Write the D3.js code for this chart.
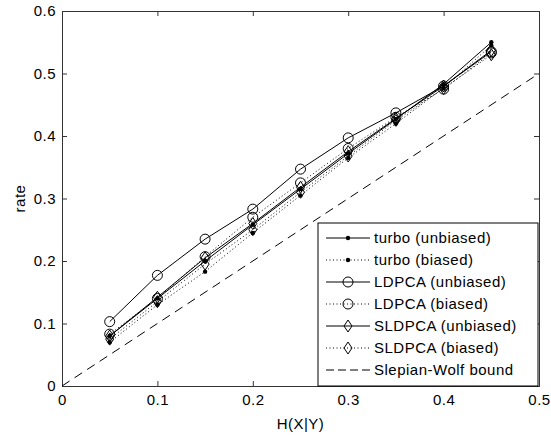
<html>
<head>
<style>
  body { margin: 0; background: #fff; font-family: Arial, "Liberation Sans", sans-serif; }
  svg text { fill: #000; letter-spacing: 0.5px; }
</style>
<script src="https://cdn.jsdelivr.net/npm/d3@7"></script>
</head>
<body>
<svg id="grafico"></svg>
<script>
// data
const entropias = [0.05, 0.1, 0.15, 0.2, 0.25, 0.3, 0.35, 0.4, 0.45];
const turboSinSesgo = [0.080, 0.140, 0.200, 0.258, 0.315, 0.372, 0.427, 0.483, 0.550];
const turboSesgo = [0.070, 0.130, 0.183, 0.245, 0.305, 0.365, 0.420, 0.477, 0.545];
const ldpcaSinSesgo = [0.103, 0.177, 0.235, 0.283, 0.347, 0.397, 0.437, 0.480, 0.535];
const ldpcaSesgo = [0.083, 0.140, 0.207, 0.270, 0.325, 0.380, 0.430, 0.475, 0.533];
const sldpcaSinSesgo = [0.080, 0.142, 0.205, 0.260, 0.318, 0.375, 0.428, 0.480, 0.537];
const sldpcaSesgo = [0.075, 0.135, 0.195, 0.250, 0.310, 0.368, 0.425, 0.476, 0.530];
const cotaSW = [[0, 0], [0.5, 0.5]];
const ticksX = [0, 0.1, 0.2, 0.3, 0.4, 0.5];
const ticksY = [0, 0.1, 0.2, 0.3, 0.4, 0.5, 0.6];

const series = [
  { nombre: "turbo (unbiased)", valores: turboSinSesgo, marca: "punto", linea: "solid" },
  { nombre: "turbo (biased)", valores: turboSesgo, marca: "punto", linea: "dotted" },
  { nombre: "LDPCA (unbiased)", valores: ldpcaSinSesgo, marca: "circulo", linea: "solid" },
  { nombre: "LDPCA (biased)", valores: ldpcaSesgo, marca: "circulo", linea: "dotted" },
  { nombre: "SLDPCA (unbiased)", valores: sldpcaSinSesgo, marca: "rombo", linea: "solid" },
  { nombre: "SLDPCA (biased)", valores: sldpcaSesgo, marca: "rombo", linea: "dotted" }
];

const ancho = 551, alto = 436;
const margenes = { top: 11, right: 12, bottom: 50, left: 62 };
const svg = d3.select("#grafico").attr("width", ancho).attr("height", alto);

const x = d3.scaleLinear().domain([0, 0.5]).range([margenes.left, ancho - margenes.right]);
const y = d3.scaleLinear().domain([0, 0.6]).range([alto - margenes.bottom, margenes.top]);

const trazo = "#000";
const dasharray = { solid: null, dotted: "1,2.5", dashed: "9,6" };
const fuente = 15;

// axes with inward ticks, box style
const tam = 5;
svg.append("g").attr("transform", `translate(0,${y(0)})`)
  .call(d3.axisBottom(x).tickValues(ticksX).tickSize(-tam).tickPadding(8).tickFormat(d => d === 0 ? "0" : d3.format(".1f")(d)));
svg.append("g").attr("transform", `translate(0,${y(0.6)})`)
  .call(d3.axisTop(x).tickValues(ticksX).tickSize(-tam).tickFormat(""));
svg.append("g").attr("transform", `translate(${x(0)},0)`)
  .call(d3.axisLeft(y).tickValues(ticksY).tickSize(-tam).tickPadding(6).tickFormat(d => d === 0 ? "0" : d3.format(".1f")(d)));
svg.append("g").attr("transform", `translate(${x(0.5)},0)`)
  .call(d3.axisRight(y).tickValues(ticksY).tickSize(-tam).tickFormat(""));
svg.selectAll(".domain").attr("stroke", "#333");
svg.selectAll(".tick line").attr("stroke", "#333");
svg.selectAll(".tick text").attr("font-size", fuente).attr("font-family", "Arial, 'Liberation Sans', sans-serif").attr("fill", "#000");

svg.append("text").attr("x", (x(0) + x(0.5)) / 2).attr("y", alto - 7)
  .attr("text-anchor", "middle").attr("font-size", fuente).text("H(X|Y)");
svg.append("text").attr("transform", `translate(25,${(y(0) + y(0.6)) / 2}) rotate(-90)`)
  .attr("text-anchor", "middle").attr("font-size", fuente).text("rate");

// Slepian-Wolf bound
svg.append("path")
  .attr("d", d3.line().x(d => x(d[0])).y(d => y(d[1]))(cotaSW))
  .attr("fill", "none").attr("stroke", trazo).attr("stroke-width", 1)
  .attr("stroke-dasharray", dasharray.dashed);

function dibujarMarca(g, tipo, cx, cy) {
  if (tipo === "punto") {
    g.append("circle").attr("cx", cx).attr("cy", cy).attr("r", 2.2).attr("fill", trazo);
  } else if (tipo === "circulo") {
    g.append("circle").attr("cx", cx).attr("cy", cy).attr("r", 5).attr("fill", "none").attr("stroke", trazo);
  } else {
    g.append("path").attr("d", `M${cx},${cy - 6}L${cx + 4},${cy}L${cx},${cy + 6}L${cx - 4},${cy}Z`)
      .attr("fill", "none").attr("stroke", trazo);
  }
}

const linea = d3.line().x((d, i) => x(entropias[i])).y(d => y(d));
series.forEach(s => {
  const g = svg.append("g");
  g.append("path").attr("d", linea(s.valores)).attr("fill", "none")
    .attr("stroke", trazo).attr("stroke-width", 1)
    .attr("stroke-dasharray", dasharray[s.linea]);
  s.valores.forEach((v, i) => dibujarMarca(g, s.marca, x(entropias[i]), y(v)));
});

// legend
const ley = { x0: 318, y0: 223, x1: 538, y1: 386 };
svg.append("rect").attr("x", ley.x0).attr("y", ley.y0)
  .attr("width", ley.x1 - ley.x0).attr("height", ley.y1 - ley.y0)
  .attr("fill", "#fff").attr("stroke", "#000");
const entradas = series.concat([{ nombre: "Slepian-Wolf bound", marca: null, linea: "dashed" }]);
entradas.forEach((s, i) => {
  const yy = 238 + i * 22;
  const g = svg.append("g");
  g.append("line").attr("x1", 326).attr("x2", 370).attr("y1", yy).attr("y2", yy)
    .attr("stroke", trazo).attr("stroke-dasharray", s.linea === "dashed" ? "8,4" : dasharray[s.linea]);
  if (s.marca) dibujarMarca(g, s.marca, 348, yy);
  g.append("text").attr("x", 374).attr("y", yy + 5).attr("font-size", fuente).text(s.nombre);
});
</script>
</body>
</html>
